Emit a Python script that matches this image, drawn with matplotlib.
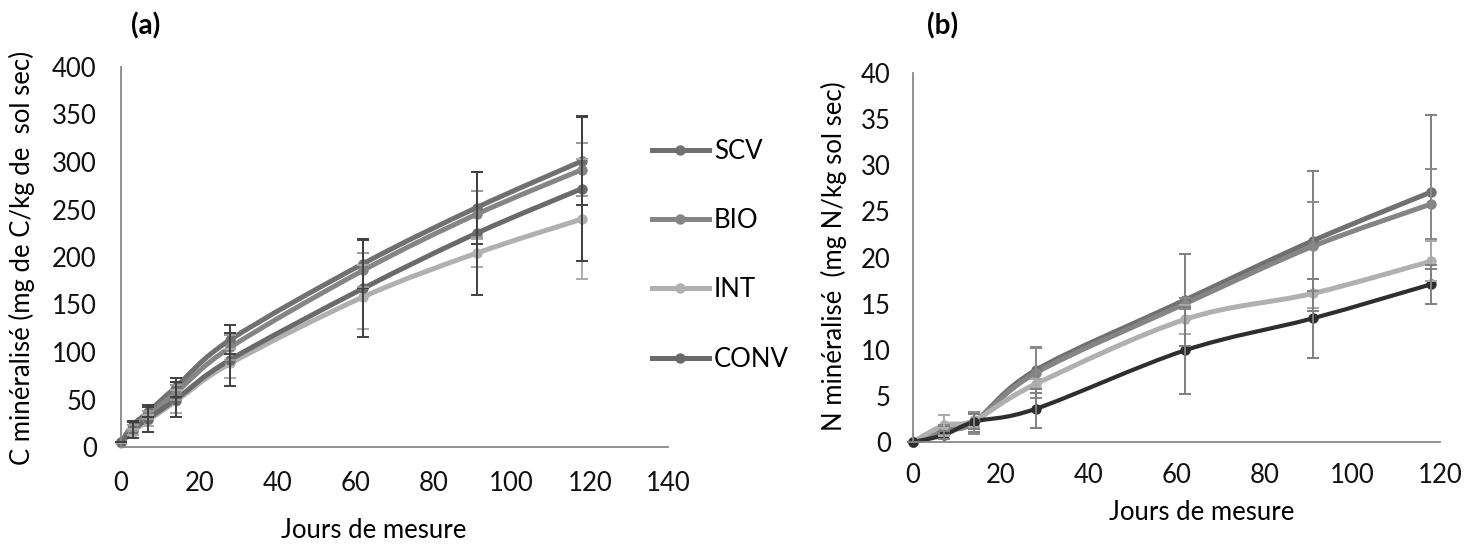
import numpy as np
import matplotlib
matplotlib.use('Agg')
import matplotlib.pyplot as plt
from matplotlib.path import Path
from matplotlib.patches import PathPatch
from matplotlib.lines import Line2D

plt.rcParams['font.family'] = ['Lato', 'DejaVu Sans']

# (a) C mineralise
jours_c = [0, 3, 7, 14, 28, 62, 91, 118]
c_scv = [5, 23, 37, 63, 113, 193, 252, 301]
c_bio = [5, 20, 34, 57, 105, 186, 245, 292]
c_int = [4, 16, 28, 48, 88, 158, 204, 240]
c_conv = [5, 18, 30, 50, 92, 167, 225, 272]
err_c_scv = [0, 4, 5, 10, 15, 26, 38, 46]
err_c_bio = [0, 3, 4, 8, 13, 18, 24, 28]
err_c_int = [0, 3, 6, 12, 15, 34, 15, 63]
err_c_conv = [0, 8, 14, 18, 28, 51, 65, 76]

# (b) N mineralise
jours_n = [0, 7, 14, 28, 62, 91, 118]
n_scv = [0, 1.2, 2.2, 7.8, 15.4, 21.8, 27.1]
n_bio = [0, 1.3, 2.1, 7.5, 15.0, 21.2, 25.8]
n_int = [0, 1.8, 2.35, 6.3, 13.3, 16.1, 19.6]
n_conv = [0, 0.75, 2.2, 3.6, 9.95, 13.4, 17.1]
err_n_scv = [0, 0.5, 1.1, 2.5, 5.0, 7.6, 8.3]
err_n_bio = [0, 0.5, 1.2, 2.7, 0.6, 4.8, 3.8]
err_n_int = [0, 1.1, 0.7, 0.5, 1.6, 1.6, 2.2]
err_n_conv = [0, 0.4, 0.8, 2.1, 4.7, 4.3, 2.1]

noms = ['SCV', 'BIO', 'INT', 'CONV']
FS = 18.5


def lisse(ax, x, y, color, lw):
    # courbe lissee type Excel (Bezier, Catmull-Rom)
    x = np.asarray(x, float)
    y = np.asarray(y, float)
    px = np.r_[x[0], x, x[-1]]
    py = np.r_[y[0], y, y[-1]]
    verts = [(x[0], y[0])]
    codes = [Path.MOVETO]
    for i in range(len(x) - 1):
        c1 = (x[i] + (px[i + 2] - px[i]) / 6, y[i] + (py[i + 2] - py[i]) / 6)
        c2 = (x[i + 1] - (px[i + 3] - px[i + 1]) / 6, y[i + 1] - (py[i + 3] - py[i + 1]) / 6)
        verts += [c1, c2, (x[i + 1], y[i + 1])]
        codes += [Path.CURVE4] * 3
    ax.add_patch(PathPatch(Path(verts, codes), fill=False, edgecolor=color, lw=lw,
                           capstyle='round', joinstyle='round', zorder=2, clip_on=False))


def serie(ax, x, y, err, color, ecolor, lw, ms):
    lisse(ax, x, y, color, lw)
    ax.plot(x, y, 'o', color=color, ms=ms, zorder=2.5, clip_on=False)
    ax.errorbar(x, y, yerr=err, fmt='none', ecolor=ecolor, elinewidth=1.4,
                capsize=4.3, capthick=1.4, zorder=3, clip_on=False)


def habille(ax, xmax, xstep, ymax, ystep, padx, pady):
    ax.set_xlim(0, xmax)
    ax.set_ylim(0, ymax)
    ax.set_xticks(np.arange(0, xmax + 1, xstep))
    ax.set_yticks(np.arange(0, ymax + 0.01, ystep))
    for s in ['top', 'right']:
        ax.spines[s].set_visible(False)
    for s in ['left', 'bottom']:
        ax.spines[s].set_color('#888888')
        ax.spines[s].set_linewidth(1.3)
    ax.tick_params(axis='x', length=0, pad=padx, labelsize=FS, colors='#111111')
    ax.tick_params(axis='y', length=0, pad=pady, labelsize=FS, colors='#111111')


fig = plt.figure(figsize=(14.78, 5.55), dpi=100)
W, H = 1478, 555

ax1 = fig.add_axes([121 / W, 1 - 447 / H, (668 - 121) / W, (447 - 67) / H])
couleurs_c = ['#707070', '#858585', '#b0b0b0', '#6a6a6a']
ecouleurs_c = ['#404040', '#999999', '#aaaaaa', '#404040']
for y, e, c, ec in zip([c_scv, c_bio, c_int, c_conv],
                       [err_c_scv, err_c_bio, err_c_int, err_c_conv],
                       couleurs_c, ecouleurs_c):
    serie(ax1, jours_c, y, e, c, ec, 3.6, 6.5)
habille(ax1, 140, 20, 400, 50, 17, 17.5)

ax2 = fig.add_axes([913 / W, 1 - 442 / H, (1440 - 913) / W, (442 - 73) / H])
couleurs_n = ['#707070', '#858585', '#b0b0b0', '#2e2e2e']
ecouleurs_n = ['#7f7f7f', '#8a8a8a', '#aaaaaa', '#7f7f7f']
lws = [3.6, 3.6, 3.6, 3.0]
for y, e, c, ec, lw in zip([n_scv, n_bio, n_int, n_conv],
                           [err_n_scv, err_n_bio, err_n_int, err_n_conv],
                           couleurs_n, ecouleurs_n, lws):
    serie(ax2, jours_n, y, e, c, ec, lw, 6.5)
habille(ax2, 120, 20, 40, 5, 15, 16)

# legende
poignees = [Line2D([], [], color=c, lw=3.6, marker='o', ms=6.5) for c in couleurs_c]
fig.legend(poignees, noms, loc='upper left', bbox_to_anchor=(652 / W, 1 - 139 / H),
           frameon=False, fontsize=FS, handlelength=2.2, handletextpad=0.2,
           labelspacing=1.72, borderpad=0, borderaxespad=0)

# titres et noms d'axes
fig.text(146 / W, 1 - 26 / H, '(a)', fontsize=20, fontweight='bold', ha='center', va='center')
fig.text(943 / W, 1 - 26 / H, '(b)', fontsize=20, fontweight='bold', ha='center', va='center')
fig.text(22 / W, 1 - 258 / H, 'C minéralisé (mg de C/kg de  sol sec)', rotation=90,
         fontsize=FS, ha='center', va='center')
fig.text(834 / W, 1 - 256 / H, 'N minéralisé  (mg N/kg sol sec)', rotation=90,
         fontsize=FS, ha='center', va='center')
fig.text(374 / W, 1 - 531 / H, 'Jours de mesure', fontsize=FS, ha='center', va='center')
fig.text(1202 / W, 1 - 513 / H, 'Jours de mesure', fontsize=FS, ha='center', va='center')

fig.savefig('out.png', dpi=100)
